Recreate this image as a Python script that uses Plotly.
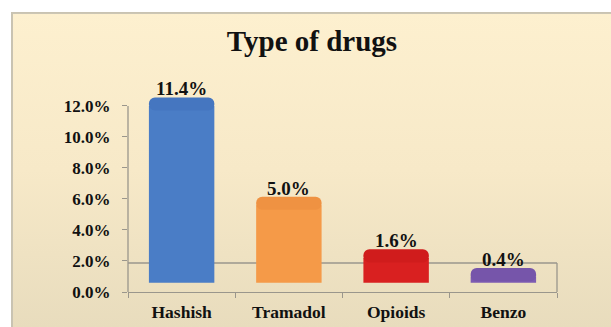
import base64
import plotly.graph_objects as go

# ---- data ----
categories = ["Hashish", "Tramadol", "Opioids", "Benzo"]
values = [11.4, 5.0, 1.6, 0.4]
tick_vals = [0, 2, 4, 6, 8, 10, 12]
tick_text = ["0.0%", "2.0%", "4.0%", "6.0%", "8.0%", "10.0%", "12.0%"]

# ---- style ----
body_colors = ["#4A7DC6", "#F59A48", "#D92020", "#7D5BB2"]
cap_colors = ["#4576C0", "#EF9242", "#D01C1C", "#7655AA"]
depth = 0.6    # 3D depth offset of the bar bases
cap = 0.55     # height of rounded 3D cap
overlap = 0.3  # cap overlaps body to avoid seam
FONT = "Liberation Serif"
AXIS = "#9A968C"

W, H = 611, 327
ymax = 12.9
ppu = 15.5                    # pixels per percent
ml, mr, mb = 128, 54, 35
mt = (H - mb) - ymax * ppu
pw, ph = W - ml - mr, H - mt - mb

fig = go.Figure()
fig.add_trace(go.Bar(
    x=categories, y=values, base=[depth] * len(values),
    marker=dict(color=body_colors, line=dict(width=0)),
    hoverinfo="skip", showlegend=False,
))
fig.add_trace(go.Bar(
    x=categories, y=[cap + overlap] * len(values),
    base=[v + depth - overlap for v in values],
    marker=dict(color=cap_colors, line=dict(width=0), cornerradius=8),
    hoverinfo="skip", showlegend=False,
))
for c, v in zip(categories, values):
    fig.add_annotation(x=c, y=v + depth + cap, xref="x", yref="y",
                       text=f"<b>{v:.1f}%</b>", showarrow=False,
                       yanchor="bottom", yshift=-4,
                       font=dict(family=FONT, size=19, color="#111111"))

# background panel with gradient (svg image)
svg = '''<svg xmlns="http://www.w3.org/2000/svg" width="600" height="315" viewBox="0 0 600 315" preserveAspectRatio="none">
<defs><linearGradient id="g" x1="0" y1="0" x2="0" y2="1">
<stop offset="0" stop-color="#FDF0CF"/><stop offset="0.5" stop-color="#F7E9C8"/><stop offset="1" stop-color="#E8DCBD"/></linearGradient></defs>
<rect x="0" y="0" width="600" height="315" fill="url(#g)"/>
<rect x="0" y="0" width="600" height="2" fill="#C9C3B2"/>
<rect x="0" y="0" width="2" height="315" fill="#C9C3B2"/>
</svg>'''
src = "data:image/svg+xml;base64," + base64.b64encode(svg.encode()).decode()
px0, py0 = 11, 12
fig.add_layout_image(dict(
    source=src, xref="paper", yref="paper",
    x=(px0 - ml) / pw, y=(H - mb - py0) / ph,
    sizex=(W - px0) / pw, sizey=(H - py0) / ph,
    xanchor="left", yanchor="top", sizing="stretch", layer="below",
))

# y axis line (0 to 12) and 3D floor outline
fig.add_shape(type="line", xref="paper", yref="y", x0=0, x1=0, y0=0, y1=tick_vals[-1],
              line=dict(color=AXIS, width=1.3), layer="below")
floor_y = (H - mb - 263) / ph
fig.add_shape(type="line", xref="paper", yref="paper", x0=0, x1=1, y0=floor_y, y1=floor_y,
              line=dict(color=AXIS, width=1.3), layer="below")
fig.add_shape(type="line", xref="paper", yref="paper", x0=1, x1=1, y0=0, y1=floor_y,
              line=dict(color=AXIS, width=1.3), layer="below")

fig.update_layout(
    width=W, height=H,
    margin=dict(l=ml, r=mr, t=mt, b=mb, autoexpand=False),
    paper_bgcolor="white", plot_bgcolor="rgba(0,0,0,0)",
    barmode="overlay", bargap=0.39,
    title=dict(text="<b>Type of drugs</b>", x=(312 - ml) / pw, xref="paper", xanchor="center",
               y=1 - 41 / H, yanchor="middle",
               font=dict(family=FONT, size=29, color="#111111")),
    font=dict(family=FONT, color="#111111"),
)
fig.update_yaxes(
    range=[0, ymax], tickvals=tick_vals, ticktext=[f"<b>{t}</b>" for t in tick_text],
    showgrid=False, zeroline=False, showline=False,
    ticks="outside", ticklen=5, tickcolor=AXIS, tickwidth=1.3, ticklabelstandoff=8,
    tickfont=dict(family=FONT, size=17, color="#111111"),
)
fig.update_xaxes(
    tickvals=categories, ticktext=[f"<b>{c}</b>" for c in categories],
    showgrid=False, showline=True, linecolor=AXIS, linewidth=1.3,
    ticks="outside", ticklen=5, tickcolor=AXIS, tickwidth=1.3, tickson="boundaries",
    ticklabelstandoff=4,
    tickfont=dict(family=FONT, size=17.5, color="#111111"),
)

fig.write_html("out.html")
